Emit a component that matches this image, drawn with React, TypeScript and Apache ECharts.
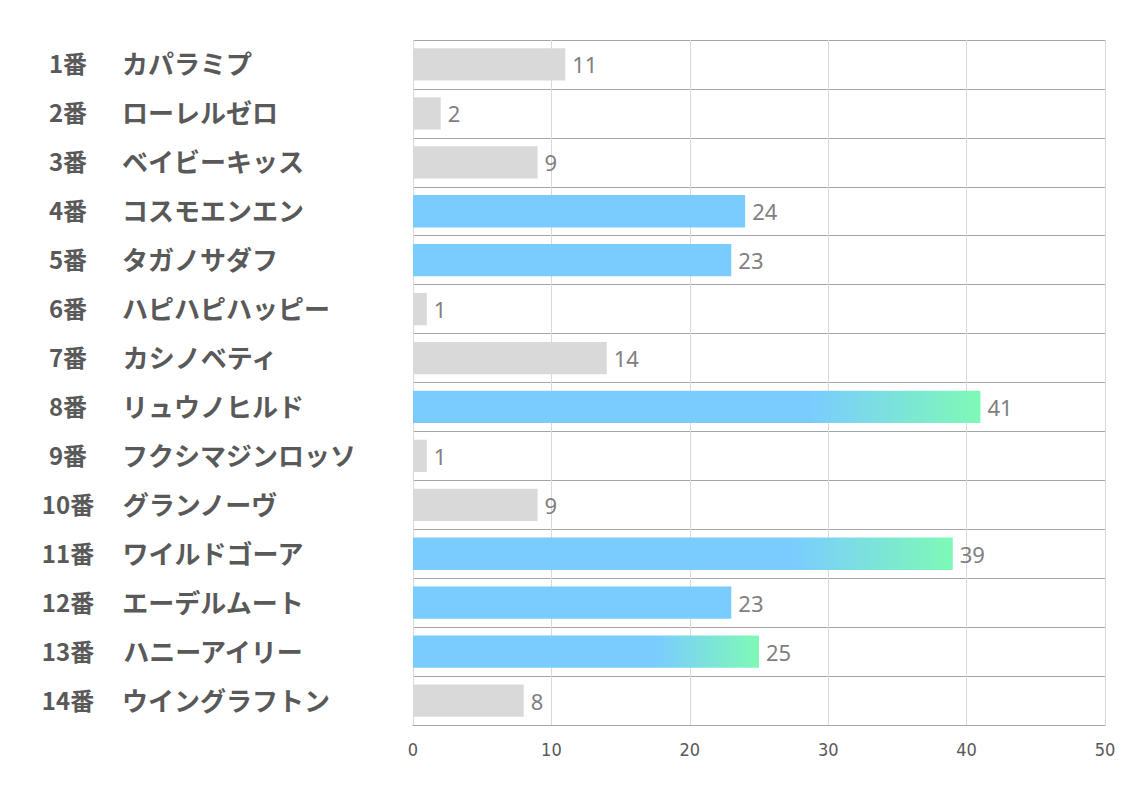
import React, { useEffect, useRef } from "react";
import * as echarts from "echarts";

const numbers = ["1番", "2番", "3番", "4番", "5番", "6番", "7番", "8番", "9番", "10番", "11番", "12番", "13番", "14番"];
const names = ["カパラミプ", "ローレルゼロ", "ベイビーキッス", "コスモエンエン", "タガノサダフ", "ハピハピハッピー", "カシノベティ", "リュウノヒルド", "フクシマジンロッソ", "グランノーヴ", "ワイルドゴーア", "エーデルムート", "ハニーアイリー", "ウイングラフトン"];
const values = [11, 2, 9, 24, 23, 1, 14, 41, 1, 9, 39, 23, 25, 8];
// g = gray, b = blue, x = blue-green gradient
const styles = ["g", "g", "g", "b", "b", "g", "g", "x", "g", "g", "x", "b", "x", "g"];
const xTicks = [0, 10, 20, 30, 40, 50];

const GRAY = "#d9d9d9";
const BLUE = "#7accff";
const GREEN = "#7ef9b6";

export default function App() {
  const ref = useRef<HTMLDivElement>(null);
  useEffect(() => {
    if (!ref.current) return;
    const chart = echarts.init(ref.current, null, { renderer: "svg" });
    const colorFor = (s: string) => {
      if (s === "g") return GRAY;
      if (s === "b") return BLUE;
      return new echarts.graphic.LinearGradient(0, 0, 1, 0, [
        { offset: 0, color: BLUE },
        { offset: 0.7, color: BLUE },
        { offset: 1, color: GREEN },
      ]);
    };
    chart.setOption({
      animation: false,
      grid: { left: 413, top: 40, right: 29, bottom: 68 },
      xAxis: {
        type: "value",
        min: xTicks[0],
        max: xTicks[xTicks.length - 1],
        interval: 10,
        axisLine: { show: true, lineStyle: { color: "#a6a6a6", width: 1 } },
        axisTick: { show: false },
        splitLine: { show: true, lineStyle: { color: "#d9d9d9", width: 1 } },
        axisLabel: {
          color: "#595959",
          fontSize: 18,
          margin: 15,
          fontFamily: "'Liberation Sans Narrow', 'DejaVu Sans Condensed', 'Noto Sans', sans-serif",
        },
      },
      yAxis: {
        type: "category",
        inverse: true,
        data: numbers.map((n, i) => n + "|" + names[i]),
        axisLine: { show: true, lineStyle: { color: "#d9d9d9", width: 1 } },
        axisTick: { show: false },
        splitLine: { show: true, lineStyle: { color: "#a6a6a6", width: 1 } },
        axisLabel: {
          align: "left",
          margin: 375,
          formatter: (v: string) => {
            const [a, b] = v.split("|");
            return "{a|" + a + "}{b|" + b + "}";
          },
          rich: {
            a: {
              width: 60,
              align: "right",
              fontSize: 24,
              fontWeight: "bold",
              color: "#595959",
              fontFamily: "'Noto Sans CJK JP', sans-serif",
              padding: [0, 0, 3, 0],
            },
            b: {
              padding: [0, 0, 3, 24],
              fontSize: 26,
              fontWeight: "bold",
              color: "#595959",
              fontFamily: "'Noto Sans CJK JP', sans-serif",
            },
          },
        },
      },
      series: [
        {
          type: "bar",
          barWidth: "66%",
          data: values.map((v, i) => ({ value: v, itemStyle: { color: colorFor(styles[i]) } })),
          label: {
            show: true,
            position: "right",
            distance: 7,
            fontSize: 22,
            color: "#7f7f7f",
            fontFamily: "'Noto Sans', 'Open Sans', sans-serif",
          },
        },
      ],
    });
    return () => chart.dispose();
  }, []);
  return <div ref={ref} style={{ width: 1134, height: 793, position: "absolute", left: 0, top: 0, background: "#fff" }} />;
}
